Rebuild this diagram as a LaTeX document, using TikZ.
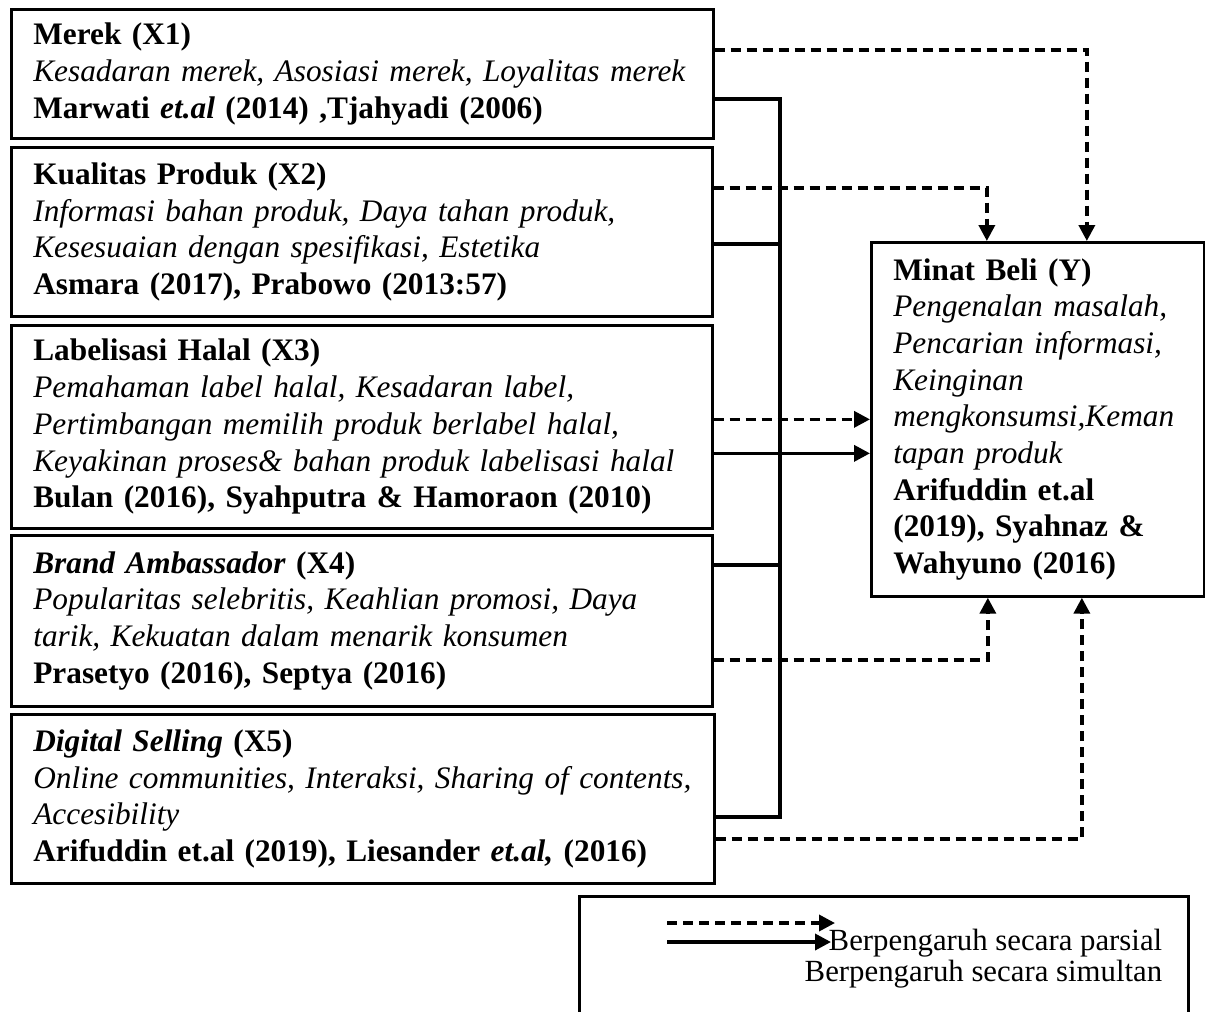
\documentclass[tikz,border=0pt]{standalone}
\usepackage{fontspec}
\setmainfont{Liberation Serif}
\usetikzlibrary{arrows.meta}

\tikzset{every path/.style={line width=3.6pt}}
\tikzset{
  varbox/.style={draw, line width=2.7pt, anchor=north west, inner xsep=22pt, inner ysep=0pt,
    text width=#1, align=left, font=\fontsize{31.3}{36.7}\selectfont},
  legtext/.style={anchor=base east, inner sep=0pt, font=\fontsize{30.8}{31}\selectfont},
  parsial/.style={->, dash pattern=on 10pt off 6pt},
  simultan/.style={->},
}

\begin{document}
\begin{tikzpicture}[x=1pt,y=-1pt,>={Triangle[length=16pt,width=16pt]}]
    \useasboundingbox (0,0) rectangle (1205,1012);
    \node[varbox=658pt, minimum height=129pt] (x1) at (10,8) {\textbf{Merek (X1)}\\
      \textit{Kesadaran merek, Asosiasi merek, Loyalitas merek}\\
      \textbf{Marwati \textit{et.al} (2014) ,Tjahyadi (2006)}};
    \node[varbox=657pt, minimum height=169pt] (x2) at (10,146) {\textbf{Kualitas Produk (X2)}\\
      \textit{Informasi bahan produk, Daya tahan produk,}\\
      \textit{Kesesuaian dengan spesifikasi, Estetika}\\
      \textbf{Asmara (2017), Prabowo (2013:57)}};
    \node[varbox=657pt, minimum height=203pt] (x3) at (10,324) {\textbf{Labelisasi Halal (X3)}\\
      \textit{Pemahaman label halal, Kesadaran label,}\\
      \textit{Pertimbangan memilih produk berlabel halal,}\\
      \textit{Keyakinan proses\& bahan produk labelisasi halal}\\
      \textbf{Bulan (2016), Syahputra \& Hamoraon (2010)}};
    \node[varbox=657pt, minimum height=171pt] (x4) at (10,534) {\textbf{\textit{Brand Ambassador} (X4)}\\
      \textit{Popularitas selebritis, Keahlian promosi, Daya}\\
      \textit{tarik, Kekuatan dalam menarik konsumen}\\
      \textbf{Prasetyo (2016), Septya (2016)}};
    \node[varbox=659pt, minimum height=169pt] (x5) at (10,713) {\textbf{\textit{Digital Selling} (X5)}\\
      \textit{Online communities, Interaksi, Sharing of contents,}\\
      \textit{Accesibility}\\
      \textbf{Arifuddin et.al (2019), Liesander \textit{et.al,} (2016)}};
    \node[varbox=289pt, minimum height=354pt] (y) at (870,241) {\textbf{Minat Beli (Y)}\\
      \textit{Pengenalan masalah,}\\
      \textit{Pencarian informasi,}\\
      \textit{Keinginan}\\
      \textit{mengkonsumsi,Keman}\\
      \textit{tapan produk}\\
      \textbf{Arifuddin et.al}\\
      \textbf{(2019), Syahnaz \&}\\
      \textbf{Wahyuno (2016)}};
    % simultan
    \coordinate (bb) at (780,815);
    \draw ([yshift=-25pt]x1.east) -| (bb);
    \draw ([yshift=-12pt]x2.east) -| (bb);
    \draw ([yshift=56pt]x4.east) -| (bb);
    \draw ([yshift=-18pt]x5.east) -| (bb);
    \coordinate (s3) at ([yshift=-34pt]y.west);
    \draw[simultan] (x3.east |- s3) -- (s3);
    % parsial
    \draw[parsial] ([yshift=24pt]x1.east) -| ([xshift=49pt]y.north);
    \draw[parsial] ([yshift=44pt]x2.east) -| ([xshift=-51pt]y.north);
    \draw[parsial] (x3.east |- y.west) -- (y.west);
    \draw[parsial] ([yshift=-39pt]x4.east) -| ([xshift=-50pt]y.south);
    \draw[parsial] ([yshift=-40pt]x5.east) -| ([xshift=44pt]y.south);
    % keterangan
    \node[draw, line width=2.7pt, anchor=north west, minimum width=609pt, minimum height=200pt] (legend) at (578,895) {};
    \node[legtext] (lgpar) at (1164,950) {Berpengaruh secara parsial};
    \node[legtext] (lgsim) at (1164,981) {Berpengaruh secara simultan};
    \coordinate (lp0) at (667,923);
    \coordinate (lp1) at (835,923);
    \coordinate (ls0) at (667,942);
    \coordinate (ls1) at (831,942);
    \draw[parsial] (lp0) -- (lp1);
    \draw[simultan] (ls0) -- (ls1);
\end{tikzpicture}
\end{document}
